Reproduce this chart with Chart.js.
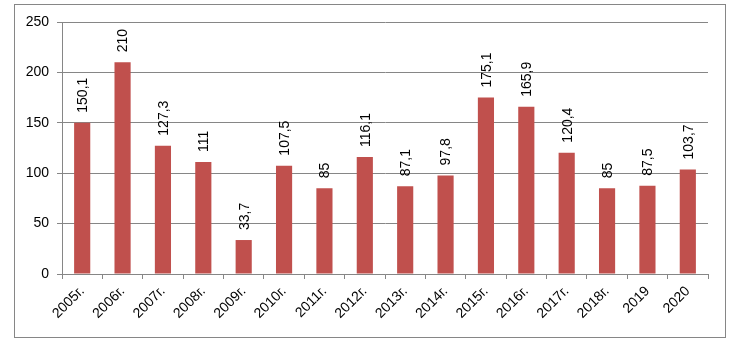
<!DOCTYPE html>
<html>
<head>
<meta charset="utf-8">
<script src="https://cdn.jsdelivr.net/npm/chart.js@4/dist/chart.umd.min.js"></script>
<style>
  html, body { margin: 0; padding: 0; background: #fff; }
  #wrap { width: 741px; height: 349px; position: relative; }
</style>
</head>
<body>
<div id="wrap"><canvas id="c" width="741" height="349"></canvas></div>
<script>
const years = ['2005г.', '2006г.', '2007г.', '2008г.', '2009г.', '2010г.', '2011г.', '2012г.',
               '2013г.', '2014г.', '2015г.', '2016г.', '2017г.', '2018г.', '2019', '2020'];
const values = [150.1, 210, 127.3, 111, 33.7, 107.5, 85, 116.1, 87.1, 97.8, 175.1, 165.9, 120.4, 85, 87.5, 103.7];
const yTicks = [0, 50, 100, 150, 200, 250];

const FONT = '"Liberation Sans", "DejaVu Sans", sans-serif';
const fmt = v => String(v).replace('.', ',');

// outer frame around the whole figure
const framePlugin = {
  id: 'frame',
  beforeDraw(chart) {
    const ctx = chart.ctx;
    ctx.save();
    ctx.fillStyle = '#fff';
    ctx.fillRect(0, 0, chart.width, chart.height);
    ctx.strokeStyle = '#868686';
    ctx.lineWidth = 1;
    ctx.strokeRect(14.5, 4.5, 711, 333);
    ctx.restore();
  }
};

// vertical value labels above each bar
const valueLabels = {
  id: 'valueLabels',
  afterDatasetsDraw(chart) {
    const ctx = chart.ctx;
    const meta = chart.getDatasetMeta(0);
    ctx.save();
    ctx.fillStyle = '#000';
    ctx.font = '14px ' + FONT;
    ctx.textAlign = 'left';
    ctx.textBaseline = 'middle';
    meta.data.forEach((bar, i) => {
      ctx.save();
      ctx.translate(bar.x + 1, bar.y - 10);
      ctx.rotate(-Math.PI / 2);
      ctx.fillText(fmt(values[i]), 0, 0);
      ctx.restore();
    });
    ctx.restore();
  }
};

new Chart(document.getElementById('c'), {
  type: 'bar',
  data: {
    labels: years,
    datasets: [{
      data: values,
      backgroundColor: '#C0504D',
      borderWidth: 0,
      barPercentage: 0.4,
      categoryPercentage: 1.0
    }]
  },
  options: {
    responsive: false,
    animation: false,
    events: [],
    layout: { padding: { left: 0, right: 33, top: 22, bottom: 0 } },
    plugins: { legend: { display: false }, tooltip: { enabled: false } },
    scales: {
      x: {
        offset: true,
        afterFit(axis) { axis.height = 75; },
        grid: {
          offset: true,
          drawOnChartArea: false,
          drawTicks: true,
          tickLength: 5,
          color: '#868686'
        },
        border: { color: '#868686', width: 1 },
        ticks: {
          color: '#000',
          font: { family: FONT, size: 14 },
          minRotation: 45,
          maxRotation: 45,
          padding: 4,
          autoSkip: false
        }
      },
      y: {
        min: 0,
        max: 250,
        afterBuildTicks(axis) { axis.ticks = yTicks.map(v => ({ value: v })); },
        afterFit(axis) { axis.width = 62; },
        grid: {
          color: '#868686',
          drawTicks: true,
          tickLength: 5
        },
        border: { color: '#868686', width: 1 },
        ticks: {
          color: '#000',
          font: { family: FONT, size: 14 },
          padding: 8
        }
      }
    }
  },
  plugins: [framePlugin, valueLabels]
});
</script>
</body>
</html>
